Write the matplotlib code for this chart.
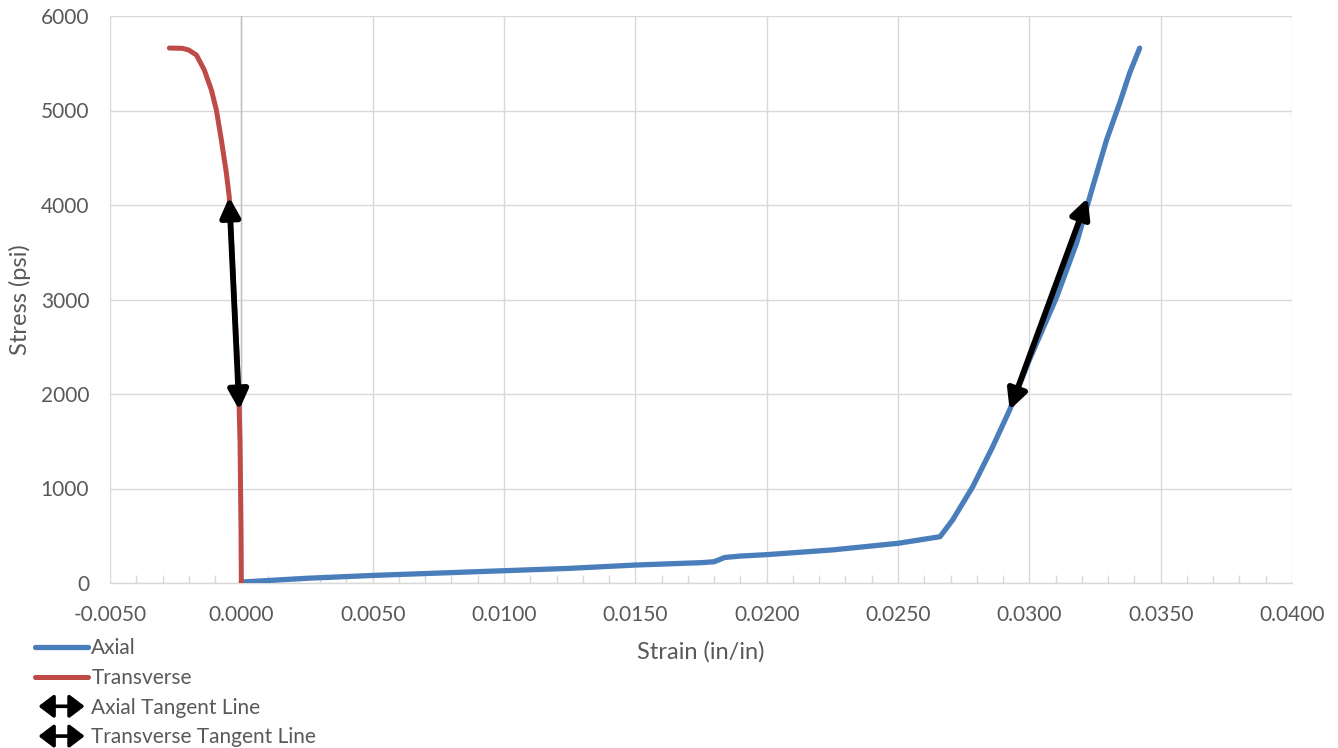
import matplotlib
matplotlib.use("Agg")
import matplotlib.pyplot as plt
from matplotlib.patches import FancyArrowPatch
from matplotlib.lines import Line2D
from matplotlib.legend_handler import HandlerBase, HandlerLine2D
from matplotlib.ticker import MultipleLocator, FormatStrFormatter

plt.rcParams["font.family"] = ["Lato", "DejaVu Sans"]
plt.rcParams["axes.unicode_minus"] = False

# Stress-strain readings (strain in in/in, stress in psi)
axial_strain = [0.0000, 0.0025, 0.0050, 0.0075, 0.0100, 0.0125, 0.0150, 0.0175,
                0.0180, 0.0184, 0.0190, 0.0200, 0.0225, 0.0250, 0.0266,
                0.02708, 0.02784, 0.0286, 0.02925, 0.0300, 0.03104, 0.0318,
                0.03241, 0.03294, 0.03344, 0.03382, 0.0342]
axial_stress = [10, 50, 80, 105, 130, 155, 190, 215,
                225, 270, 285, 300, 350, 420, 490,
                667, 1016, 1439, 1831, 2360, 3026, 3598,
                4190, 4688, 5079, 5397, 5660]

transverse_strain = [0.0, -0.00001, -0.00003, -0.00005, -0.00008, -0.00016,
                     -0.00026, -0.00036, -0.00046, -0.00057, -0.00076,
                     -0.00095, -0.00114, -0.00141, -0.00171, -0.00200,
                     -0.00225, -0.00274]
transverse_stress = [0, 500, 1000, 1500, 1830, 2400,
                     2950, 3520, 4085, 4339, 4688,
                     5005, 5217, 5429, 5587, 5640,
                     5658, 5661]

# Tangent lines drawn between roughly 2000 and 4000 psi
axial_tangent_strain = [0.02925, 0.03222]
axial_tangent_stress = [1830, 4075]
transverse_tangent_strain = [-0.00008, -0.00046]
transverse_tangent_stress = [1830, 4085]

series_labels = ["Axial", "Transverse", "Axial Tangent Line", "Transverse Tangent Line"]

x_ticks = [-0.005 + 0.005 * i for i in range(10)]
y_ticks = [0, 1000, 2000, 3000, 4000, 5000, 6000]

BLUE = "#4a7ebb"
RED = "#be4b48"
GRID = "#d9d9d9"
TEXT = "#595959"

ARROW_STYLE = "<|-|>,head_length=0.9,head_width=0.45"
LEGEND_ARROW_STYLE = "<|-|>,head_length=0.55,head_width=0.42"


class HandlerDoubleArrow(HandlerBase):
    def create_artists(self, legend, orig_handle, xdescent, ydescent,
                       width, height, fontsize, trans):
        y = height / 2 - ydescent
        p = FancyArrowPatch((-xdescent + 2.5, y), (width - xdescent - 2.5, y),
                            arrowstyle=LEGEND_ARROW_STYLE, mutation_scale=16.5,
                            color="black", lw=2.6, shrinkA=0, shrinkB=0)
        p.set_transform(trans)
        return [p]


fig = plt.figure(figsize=(13.38, 7.48), dpi=100)
ax = fig.add_axes([110 / 1338, 1 - 583 / 748, 1182 / 1338, 567 / 748])

ax.set_xlim(-0.005, 0.04)
ax.set_ylim(0, 6000)

axial_line, = ax.plot(axial_strain, axial_stress, color=BLUE, lw=3.8,
                      solid_capstyle="round", solid_joinstyle="round", zorder=3)
trans_line, = ax.plot(transverse_strain, transverse_stress, color=RED, lw=3.6,
                      solid_capstyle="round", solid_joinstyle="round", zorder=3)

arrow_handles = []
for xs, ys in [(axial_tangent_strain, axial_tangent_stress),
               (transverse_tangent_strain, transverse_tangent_stress)]:
    arr = FancyArrowPatch((xs[0], ys[0]), (xs[1], ys[1]), arrowstyle=ARROW_STYLE,
                          mutation_scale=13, color="black", lw=4.2,
                          shrinkA=0, shrinkB=0, zorder=4)
    ax.add_patch(arr)
    arrow_handles.append(arr)

# Vertical value axis crossing at zero strain
ax.axvline(0, color="#bfbfbf", lw=1.0, zorder=1)

ax.set_xticks(x_ticks)
ax.set_yticks(y_ticks)
ax.xaxis.set_major_formatter(FormatStrFormatter("%.4f"))
ax.xaxis.set_minor_locator(MultipleLocator(0.001))
ax.grid(True, which="major", color=GRID, lw=1.0, zorder=0)
ax.set_axisbelow(True)

for side in ["top", "right", "left"]:
    ax.spines[side].set_visible(False)
ax.spines["bottom"].set_color(GRID)
ax.spines["bottom"].set_linewidth(1.0)

ax.tick_params(axis="x", which="both", direction="in", color=GRID, width=1.0,
               labelsize=15, labelcolor=TEXT)
ax.tick_params(axis="x", which="major", length=0, pad=15.5)
ax.tick_params(axis="x", which="minor", length=6)
ax.tick_params(axis="y", length=0, pad=15, labelsize=15, labelcolor=TEXT)

ax.set_xlabel("Strain (in/in)", fontsize=17, color=TEXT, labelpad=12)
ax.set_ylabel("Stress (psi)", fontsize=17, color=TEXT, labelpad=7)

handles = [axial_line, trans_line] + arrow_handles
fig.legend(handles, series_labels, loc="upper left",
           bbox_to_anchor=(35 / 1338, 1 - 638 / 748),
           frameon=False, fontsize=15, labelcolor=TEXT,
           handlelength=2.55, handletextpad=0.15, labelspacing=0.47,
           borderaxespad=0, borderpad=0,
           handler_map={Line2D: HandlerLine2D(),
                        FancyArrowPatch: HandlerDoubleArrow()})

fig.savefig("out.png", dpi=100)
